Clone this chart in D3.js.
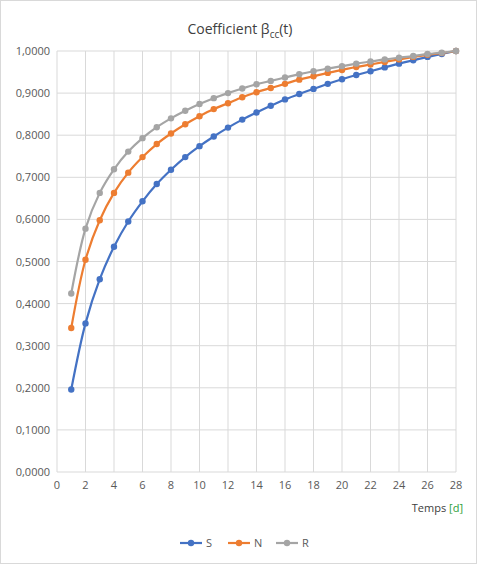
<!DOCTYPE html>
<html><head><meta charset="utf-8">
<script src="https://cdn.jsdelivr.net/npm/d3@7"></script>
<style>body{margin:0;background:#fff;font-family:"Open Sans","DejaVu Sans",sans-serif}</style>
</head><body><svg id="c" width="477" height="564"></svg>
<script>
const days = d3.range(1, 29);
const valuesS = [0.196,0.353,0.458,0.535,0.595,0.643,0.684,0.718,0.748,0.774,0.797,0.818,0.837,0.854,0.870,0.885,0.898,0.910,0.922,0.933,0.943,0.952,0.961,0.970,0.978,0.986,0.993,1.000];
const valuesN = [0.342,0.504,0.598,0.663,0.711,0.748,0.779,0.804,0.826,0.845,0.862,0.876,0.890,0.902,0.912,0.922,0.932,0.940,0.948,0.955,0.962,0.968,0.974,0.980,0.986,0.991,0.995,1.000];
const valuesR = [0.424,0.578,0.663,0.719,0.761,0.793,0.819,0.840,0.858,0.874,0.888,0.900,0.911,0.921,0.929,0.937,0.945,0.952,0.958,0.964,0.970,0.975,0.980,0.984,0.988,0.993,0.996,1.000];
const seriesNames = ["S","N","R"];
const colors = ["#4472c4","#ed7d31","#a5a5a5"];
const xTicks = d3.range(0, 29, 2);
const yTicks = d3.range(0, 11).map(i => i/10);

const svg = d3.select("#c");
svg.append("rect").attr("x",0.5).attr("y",0.5).attr("width",476).attr("height",563).attr("fill","#fff").attr("stroke","#d9d9d9");
const x = d3.scaleLinear().domain([0,28]).range([57,456]);
const y = d3.scaleLinear().domain([0,1]).range([472,51]);

svg.append("g").selectAll("line").data(yTicks).join("line")
  .attr("x1",x(0)).attr("x2",x(28)).attr("y1",d=>y(d)).attr("y2",d=>y(d)).attr("stroke","#d9d9d9");
svg.append("g").selectAll("line").data(xTicks).join("line")
  .attr("y1",y(0)).attr("y2",y(1)).attr("x1",d=>x(d)).attr("x2",d=>x(d)).attr("stroke","#d9d9d9");

const fmt = d => d3.format(".4f")(d).replace(".", ",");
svg.append("g").selectAll("text").data(yTicks).join("text")
  .attr("x",50).attr("y",d=>y(d)+4).attr("text-anchor","end").attr("font-size",11).attr("fill","#595959").text(fmt);
svg.append("g").selectAll("text").data(xTicks).join("text")
  .attr("x",d=>x(d)).attr("y",y(0)+17).attr("text-anchor","middle").attr("font-size",11).attr("fill","#595959").text(d=>d);

const title = svg.append("text").attr("x",240).attr("y",34).attr("text-anchor","middle").attr("font-size",14).attr("fill","#404040");
title.append("tspan").text("Coefficient β");
title.append("tspan").attr("font-size",10).attr("dy",4).text("cc");
title.append("tspan").attr("dy",-4).text("(t)");

const xl = svg.append("text").attr("x",463).attr("y",512).attr("text-anchor","end").attr("font-size",11).attr("fill","#404040");
xl.append("tspan").text("Temps ");
xl.append("tspan").attr("fill","#2e9e3a").text("[d]");

const all = [valuesS, valuesN, valuesR];
const line = d3.line().x((d,i)=>x(days[i])).y(d=>y(d)).curve(d3.curveCatmullRom);
all.forEach((vals,k)=>{
  const g = svg.append("g");
  g.append("path").attr("d",line(vals)).attr("fill","none").attr("stroke",colors[k]).attr("stroke-width",2.2);
  g.selectAll("circle").data(vals).join("circle").attr("cx",(d,i)=>x(days[i])).attr("cy",d=>y(d)).attr("r",3.2).attr("fill",colors[k]);
});

const lg = svg.append("g").selectAll("g").data(seriesNames).join("g")
  .attr("transform",(d,i)=>`translate(${180+i*48},543)`);
lg.append("line").attr("x1",0).attr("x2",22).attr("stroke",(d,i)=>colors[i]).attr("stroke-width",2.2);
lg.append("circle").attr("cx",11).attr("r",3.2).attr("fill",(d,i)=>colors[i]);
lg.append("text").attr("x",26).attr("y",4).attr("font-size",11).attr("fill","#595959").text(d=>d);
</script></body></html>
